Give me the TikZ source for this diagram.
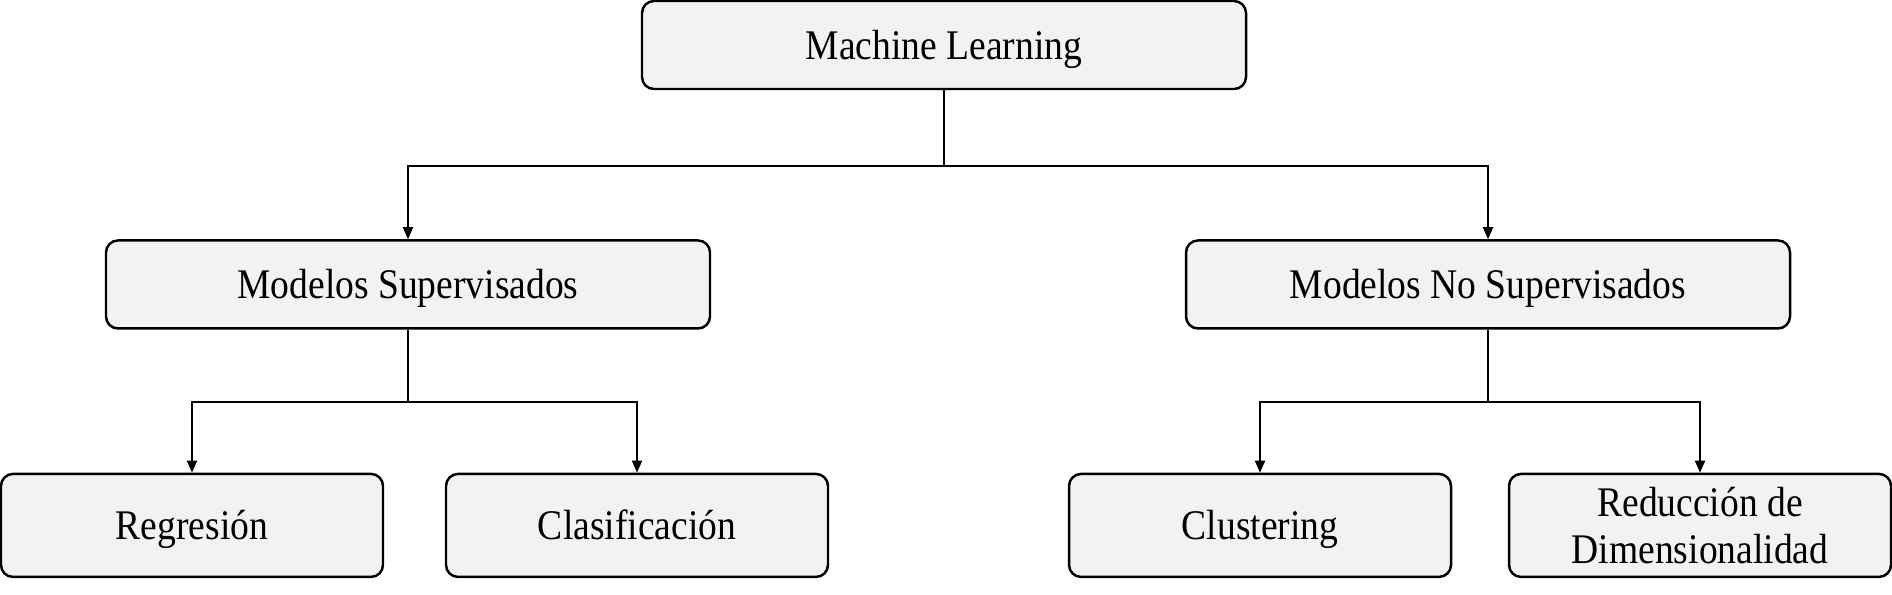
\documentclass[tikz,border=0pt]{standalone}
\usepackage{fontspec}
\setmainfont{Liberation Serif}[FakeStretch=0.89]
\usepackage{tikz}
\usetikzlibrary{arrows.meta,positioning,calc}
\usepackage{xcolor}
\definecolor{boxcol}{HTML}{F2F2F2}

\begin{document}
\begin{tikzpicture}[
  box/.style={draw, line width=0.7pt, rounded corners=1.2mm, fill=boxcol,
              minimum width=6.04cm, minimum height=0.88cm, inner sep=0pt,
              text height=8pt, text depth=0pt,
              font=\fontsize{12}{13.2}\selectfont, align=center},
  leaf/.style={box, minimum width=3.82cm, minimum height=1.03cm},
  arr/.style={-{Triangle[length=1.2mm,width=1mm]}, line width=0.5pt}]
  \useasboundingbox (0,0) rectangle (18.92,-5.94);
  \node[box] (ml) at (9.44,-0.45) {Machine Learning};
  \node[box, below=1.49cm of ml, xshift=-5.36cm] (sup)   {Modelos Supervisados};
  \node[box, below=1.49cm of ml, xshift=5.44cm]  (nosup) {Modelos No Supervisados};
  \node[leaf, below=1.43cm of sup, xshift=-2.16cm]   (reg) {Regresión};
  \node[leaf, below=1.43cm of sup, xshift=2.29cm]    (cla) {Clasificación};
  \node[leaf, below=1.43cm of nosup, xshift=-2.28cm] (clu) {Clustering};
  \node[leaf, below=1.43cm of nosup, xshift=2.12cm, text height={}, text depth={}] (red) {Reducción de\\Dimensionalidad};
  % branch points
  \coordinate (j1) at ($(ml.south)+(0,-0.76)$);
  \coordinate (j2) at ($(sup.south)+(0,-0.72)$);
  \coordinate (j3) at ($(nosup.south)+(0,-0.72)$);
  \draw[line width=0.5pt] (ml.south) -- (j1);
  \draw[arr] (j1) -| (sup.north);
  \draw[arr] (j1) -| (nosup.north);
  \draw[line width=0.5pt] (sup.south) -- (j2);
  \draw[arr] (j2) -| (reg.north);
  \draw[arr] (j2) -| (cla.north);
  \draw[line width=0.5pt] (nosup.south) -- (j3);
  \draw[arr] (j3) -| (clu.north);
  \draw[arr] (j3) -| (red.north);
\end{tikzpicture}
\end{document}
